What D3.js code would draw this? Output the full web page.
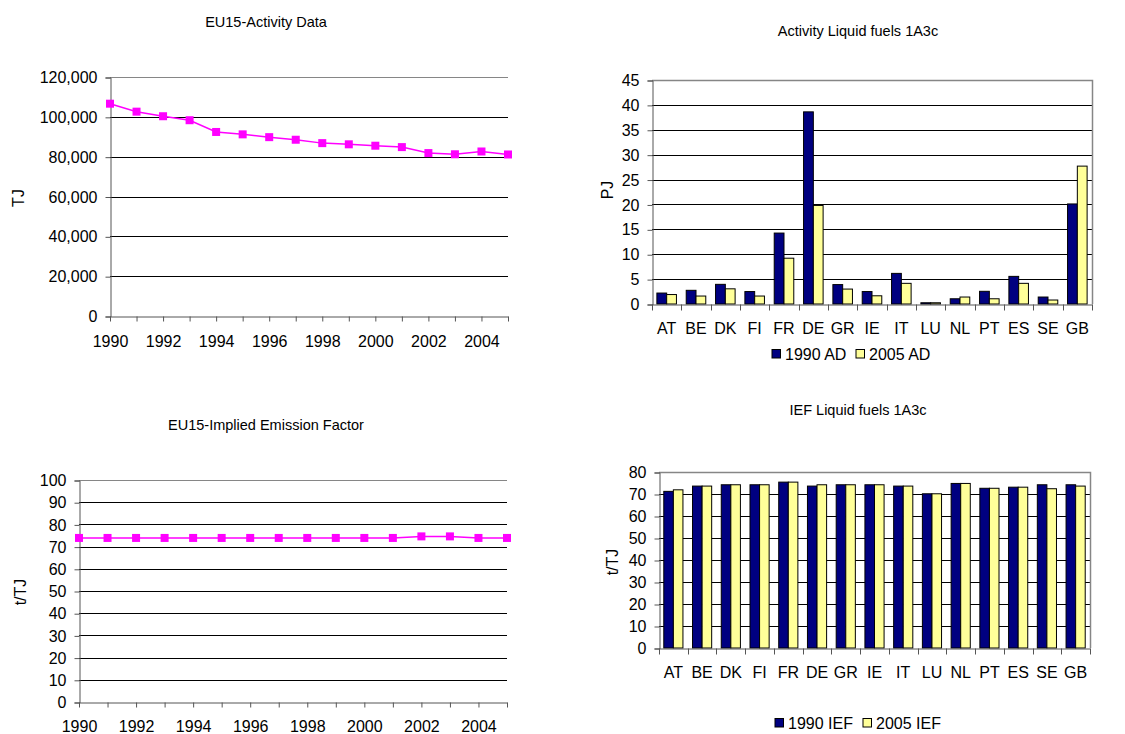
<!DOCTYPE html>
<html>
<head>
<meta charset="utf-8">
<script src="https://cdn.jsdelivr.net/npm/d3@7"></script>
<style>
  body { margin: 0; background: #fff; }
  svg { display: block; font-family: "Liberation Sans", Arial, sans-serif; }
</style>
</head>
<body>
<script>
var years = ["1990","1991","1992","1993","1994","1995","1996","1997","1998","1999","2000","2001","2002","2003","2004","2005"];
var activityTJ = [106600, 102600, 100300, 98300, 92400, 91200, 89800, 88500, 86800, 86200, 85500, 84800, 81800, 81200, 82600, 81100];
var iefEU15 = [73.9, 73.9, 73.9, 73.9, 73.9, 73.9, 73.9, 73.9, 73.9, 73.9, 73.9, 73.9, 74.6, 74.6, 73.9, 73.9];

var countries = ["AT","BE","DK","FI","FR","DE","GR","IE","IT","LU","NL","PT","ES","SE","GB"];
var ad1990 = [2.2, 2.75, 3.95, 2.5, 14.25, 38.6, 3.9, 2.5, 6.15, 0.25, 1.05, 2.55, 5.55, 1.4, 20.1];
var ad2005 = [1.9, 1.6, 3.05, 1.6, 9.2, 19.8, 3.0, 1.65, 4.15, 0.25, 1.4, 1.05, 4.15, 0.8, 27.7];
var ief1990 = [71.2, 73.6, 74.2, 74.2, 75.4, 73.6, 74.2, 74.2, 73.6, 70.1, 74.8, 72.6, 73.1, 74.2, 74.2];
var ief2005 = [71.9, 73.6, 74.2, 74.2, 75.4, 74.2, 74.2, 74.2, 73.6, 70.1, 74.8, 72.6, 73.1, 72.4, 73.6];

var W = 1125, H = 734;
var svg = d3.select("body").append("svg").attr("width", W).attr("height", H);

var gridCol = "#000", borderCol = "#868686", axisCol = "#555";
var tickFont = 16;

function styleAxis(a) {
  a.selectAll("path, line").attr("stroke", axisCol);
  a.selectAll("text").attr("font-size", tickFont).attr("fill", "#000").attr("font-family", null);
}

function lineChart(o) {
  var g = svg.append("g");
  var x = d3.scalePoint().domain(years).range([o.x0, o.x1]);
  var y = d3.scaleLinear().domain([0, o.max]).range([o.y1, o.y0]);

  // gridlines
  g.selectAll("line.grid").data(o.ticks.slice(1)).enter().append("line")
    .attr("x1", o.x0).attr("x2", o.x1)
    .attr("y1", function (d) { return Math.round(y(d)) + 0.5; })
    .attr("y2", function (d) { return Math.round(y(d)) + 0.5; })
    .attr("stroke", function (d) { return d === o.max ? borderCol : gridCol; })
    .attr("stroke-width", 1);

  var yAxis = d3.axisLeft(y).tickValues(o.ticks).tickSize(5).tickPadding(8).tickFormat(o.fmt);
  g.append("g").attr("transform", "translate(" + (Math.round(o.x0) + 0.5) + ",0.5)").call(yAxis).call(styleAxis);

  var xAxis = d3.axisBottom(x).tickSize(5).tickPadding(o.xpad).tickSizeOuter(0)
    .tickFormat(function (d, i) { return i % 2 === 0 ? d : ""; });
  g.append("g").attr("transform", "translate(0," + (Math.round(o.y1) + 0.5) + ")").call(xAxis).call(styleAxis);

  var line = d3.line().x(function (d, i) { return x(years[i]); }).y(function (d) { return y(d); });
  g.append("path").datum(o.values).attr("d", line)
    .attr("fill", "none").attr("stroke", "#ff00ff").attr("stroke-width", 1.5);
  g.selectAll("rect.pt").data(o.values).enter().append("rect")
    .attr("x", function (d, i) { return x(years[i]) - 4; })
    .attr("y", function (d) { return y(d) - 4; })
    .attr("width", 8).attr("height", 8).attr("fill", "#ff00ff");

  g.append("text").attr("x", o.tx).attr("y", o.ty).attr("text-anchor", "middle")
    .attr("font-size", 14.5).text(o.title);
  g.append("text").attr("transform", "translate(" + o.lx + "," + o.ly + ") rotate(-90)")
    .attr("text-anchor", "middle").attr("dy", "0.35em").attr("font-size", 16).text(o.ylabel);
}

function barChart(o) {
  var g = svg.append("g");
  var x = d3.scaleBand().domain(countries).range([o.x0, o.x1]);
  var y = d3.scaleLinear().domain([0, o.max]).range([o.y1, o.y0]);
  var bw = x.bandwidth() / 3;

  g.selectAll("line.grid").data(o.ticks.slice(1, -1)).enter().append("line")
    .attr("x1", o.x0).attr("x2", o.x1)
    .attr("y1", function (d) { return Math.round(y(d)) + 0.5; })
    .attr("y2", function (d) { return Math.round(y(d)) + 0.5; })
    .attr("stroke", gridCol);
  // plot border top and right
  g.append("path")
    .attr("d", "M" + o.x0 + "," + (Math.round(o.y0) + 0.5) + "H" + (Math.round(o.x1) + 0.5) + "V" + o.y1)
    .attr("fill", "none").attr("stroke", borderCol).attr("stroke-width", 1.5);

  var series = [{ v: o.a, c: "#000080" }, { v: o.b, c: "#ffff99" }];
  series.forEach(function (s, k) {
    g.selectAll("rect.s" + k).data(s.v).enter().append("rect")
      .attr("x", function (d, i) { return x(countries[i]) + bw / 2 + k * bw; })
      .attr("y", function (d) { return y(d); })
      .attr("width", bw)
      .attr("height", function (d) { return o.y1 - y(d); })
      .attr("fill", s.c).attr("stroke", "#000").attr("stroke-width", 1);
  });

  var yAxis = d3.axisLeft(y).tickValues(o.ticks).tickSize(5).tickPadding(8);
  g.append("g").attr("transform", "translate(" + (Math.round(o.x0) + 0.5) + ",0.5)").call(yAxis).call(styleAxis);

  // category axis: ticks at band boundaries
  var xAxis = d3.axisBottom(x).tickSize(0).tickPadding(o.lpad).tickSizeOuter(0);
  var ax = g.append("g").attr("transform", "translate(0," + (Math.round(o.y1) + 0.5) + ")").call(xAxis).call(styleAxis);
  ax.selectAll("line.bd").data(countries.concat(["end"])).enter().append("line")
    .attr("class", "bd")
    .attr("x1", function (d, i) { return Math.round(o.x0 + i * x.step()) + 0.5; })
    .attr("x2", function (d, i) { return Math.round(o.x0 + i * x.step()) + 0.5; })
    .attr("y1", 0).attr("y2", 6).attr("stroke", axisCol);

  g.append("text").attr("x", o.tx).attr("y", o.ty).attr("text-anchor", "middle")
    .attr("font-size", 14.5).text(o.title);
  g.append("text").attr("transform", "translate(" + o.lx + "," + o.ly + ") rotate(-90)")
    .attr("text-anchor", "middle").attr("dy", "0.35em").attr("font-size", 16).text(o.ylabel);

  // legend
  var lg = g.append("g").attr("transform", "translate(" + o.legx + "," + o.legy + ")");
  o.names.forEach(function (n, k) {
    var off = k * o.legStep;
    lg.append("rect").attr("x", off).attr("y", -4.5).attr("width", 8.5).attr("height", 8.5)
      .attr("fill", series[k].c).attr("stroke", "#000").attr("stroke-width", 1);
    lg.append("text").attr("x", off + 13).attr("y", 0).attr("dy", "0.35em")
      .attr("font-size", 16).text(n);
  });
}

lineChart({
  values: activityTJ, max: 120000, ticks: d3.range(0, 120001, 20000),
  fmt: d3.format(","),
  x0: 110, x1: 508, y0: 77, y1: 316, xpad: 14,
  title: "EU15-Activity Data", tx: 266, ty: 27,
  ylabel: "TJ", lx: 18, ly: 198
});

lineChart({
  values: iefEU15, max: 100, ticks: d3.range(0, 101, 10),
  fmt: d3.format("d"),
  x0: 79, x1: 507, y0: 480, y1: 702, xpad: 13,
  title: "EU15-Implied Emission Factor", tx: 266, ty: 430,
  ylabel: "t/TJ", lx: 20, ly: 592
});

barChart({
  a: ad1990, b: ad2005, max: 45, ticks: d3.range(0, 46, 5),
  x0: 652, x1: 1092, y0: 80, y1: 304, lpad: 18,
  title: "Activity Liquid fuels 1A3c", tx: 858, ty: 36,
  ylabel: "PJ", lx: 607, ly: 190,
  names: ["1990 AD", "2005 AD"], legx: 772, legy: 354, legStep: 84
});

barChart({
  a: ief1990, b: ief2005, max: 80, ticks: d3.range(0, 81, 10),
  x0: 659, x1: 1090, y0: 472, y1: 648, lpad: 18,
  title: "IEF Liquid fuels 1A3c", tx: 858, ty: 415,
  ylabel: "t/TJ", lx: 612, ly: 562,
  names: ["1990 IEF", "2005 IEF"], legx: 775, legy: 723, legStep: 88
});
</script>
</body>
</html>
